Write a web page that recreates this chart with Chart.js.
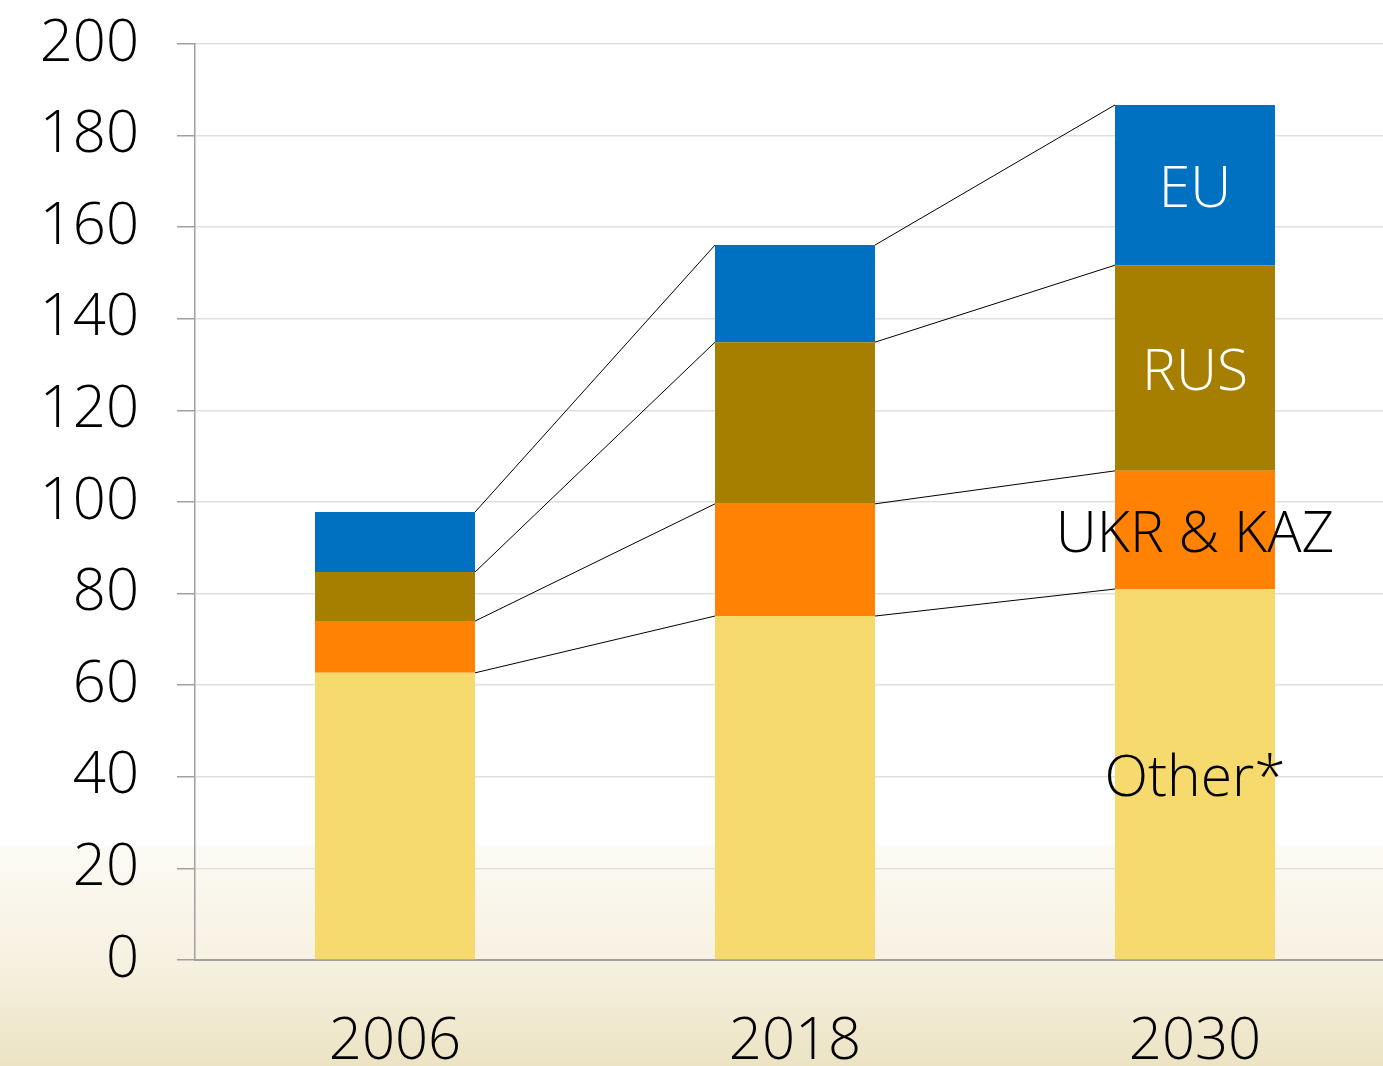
<!DOCTYPE html>
<html>
<head>
<meta charset="utf-8">
<script src="https://cdn.jsdelivr.net/npm/chart.js@4"></script>
<style>
html,body{margin:0;padding:0;width:1383px;height:1066px;overflow:hidden;}
body{background:linear-gradient(to bottom,#ffffff 0px,#ffffff 843px,#fcfaf4 848px,#f7f1e1 960px,#ebe3c3 1066px);}
#wrap{position:absolute;left:0;top:0;width:1395px;height:1066px;}
</style>
</head>
<body>
<div id="wrap"><canvas id="c" width="1395" height="1066"></canvas></div>
<script>
const categories = ["2006", "2018", "2030"];
const seriesNames = ["Other*", "UKR & KAZ", "RUS", "EU"];
const otherVals = [62.7, 75.1, 81.0];
const ukrKazVals = [11.3, 24.5, 25.8];
const rusVals = [10.7, 35.3, 44.9];
const euVals = [13.1, 21.2, 35.0];
const yTicks = [0, 20, 40, 60, 80, 100, 120, 140, 160, 180, 200];

const colors = ["#f7da6e", "#ff8204", "#a67f00", "#0070c0"];
const labelColors = ["#000000", "#000000", "#ffffff", "#ffffff"];
const FONT = "'Open Sans', 'DejaVu Sans', sans-serif";

const connectors = {
  id: 'connectors',
  afterDatasetsDraw(chart) {
    const ctx = chart.ctx;
    ctx.save();
    ctx.strokeStyle = '#000';
    ctx.lineWidth = 1;
    chart.data.datasets.forEach((ds, i) => {
      const els = chart.getDatasetMeta(i).data;
      for (let j = 0; j < els.length - 1; j++) {
        const a = els[j], b = els[j + 1];
        ctx.beginPath();
        ctx.moveTo(a.x + a.width / 2, a.y);
        ctx.lineTo(b.x - b.width / 2, b.y);
        ctx.stroke();
      }
    });
    ctx.font = "300 57px " + FONT;
    ctx.textAlign = 'center';
    ctx.textBaseline = 'middle';
    chart.data.datasets.forEach((ds, i) => {
      const els = chart.getDatasetMeta(i).data;
      const e = els[els.length - 1];
      ctx.fillStyle = labelColors[i];
      ctx.fillText(ds.label, e.x, (e.y + e.base) / 2 + 6);
    });
    ctx.restore();
  }
};

const seriesVals = [otherVals, ukrKazVals, rusVals, euVals];
new Chart(document.getElementById('c'), {
  type: 'bar',
  data: {
    labels: categories,
    datasets: seriesNames.map((n, i) => ({
      label: n,
      data: seriesVals[i],
      backgroundColor: colors[i],
      borderWidth: 0,
      barPercentage: 0.4,
      categoryPercentage: 1.0
    }))
  },
  options: {
    responsive: false,
    animation: false,
    layout: { padding: { top: 44, right: 0, left: 0, bottom: 0 } },
    plugins: { legend: { display: false }, tooltip: { enabled: false } },
    scales: {
      x: {
        stacked: true,
        grid: { display: false },
        border: { display: true, color: '#a0a0a0', width: 2 },
        ticks: { color: '#000', font: { family: FONT, size: 58, weight: 300 }, padding: 40 },
        afterFit(s) { s.height = 106; s.paddingLeft = 0; s.paddingRight = 0; }
      },
      y: {
        stacked: true,
        min: 0, max: 200,
        afterBuildTicks(s) { s.ticks = yTicks.map(v => ({ value: v })); },
        grid: { color: '#e0e0e0', lineWidth: 1.5, tickLength: 18, tickColor: '#a0a0a0' },
        border: { display: true, color: '#a0a0a0', width: 1.5 },
        ticks: { color: '#000', font: { family: FONT, size: 58, weight: 300 }, padding: 38 },
        afterFit(s) { s.width = 195; s.paddingTop = 0; s.paddingBottom = 0; }
      }
    }
  },
  plugins: [connectors]
});
</script>
</body>
</html>
